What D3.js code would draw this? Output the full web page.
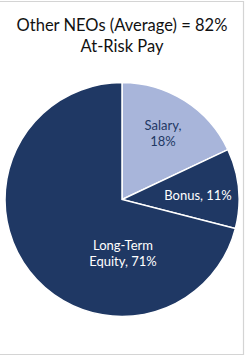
<!DOCTYPE html>
<html><head><meta charset="utf-8">
<script src="https://cdn.jsdelivr.net/npm/d3@7"></script>
<style>html,body{margin:0;padding:0;background:#fff;}svg{display:block;}</style>
</head><body>
<svg id="c" width="246" height="358"></svg>
<script>
const categories = ["Salary", "Bonus", "Long-Term Equity"];
const values = [18, 11, 71];
const labelLines = [["Salary,", "18%"], ["Bonus, 11%"], ["Long-Term", "Equity, 71%"]];
const titleLines = ["Other NEOs (Average) = 82%", "At-Risk Pay"];
const colors = ["#a8b5da", "#1f3864", "#1f3864"];
const labelColors = ["#1f3864", "#ffffff", "#ffffff"];

const svg = d3.select("#c");
const font = "Lato, 'Open Sans', sans-serif";

// frame
svg.append("path").attr("d", "M0,1.5H243.5V354.5H0").attr("fill","none").attr("stroke","#d4d4d4").attr("stroke-width",1.2);

svg.selectAll("text.title").data(titleLines).enter().append("text")
  .attr("class","title").attr("x",122).attr("y",(d,i)=>31+i*21)
  .attr("text-anchor","middle").attr("font-family",font).attr("font-size",16.5)
  .attr("fill","#111").text(d=>d);

const cx = 122, cy = 199.5, r = 117;
const pie = d3.pie().sort(null).value(d=>d)(values);
const arc = d3.arc().innerRadius(0).outerRadius(r);
const g = svg.append("g").attr("transform",`translate(${cx},${cy})`);
g.selectAll("path").data(pie).enter().append("path")
  .attr("d",arc).attr("fill",(d,i)=>colors[i])
  .attr("stroke","#fff").attr("stroke-width",1.5);

const labelPos = [[41, -70], [76, 0], [1, 50]];
g.selectAll("text.lbl").data(pie).enter().append("text")
  .attr("class","lbl").attr("text-anchor","middle")
  .attr("font-family",font).attr("font-size",13)
  .attr("fill",(d,i)=>labelColors[i])
  .each(function(d,i){
    const t = d3.select(this);
    const lines = labelLines[i];
    lines.forEach((l,j)=>{
      t.append("tspan").attr("x",labelPos[i][0]).attr("y",labelPos[i][1]+j*16.5).text(l);
    });
  });
</script>
</body></html>
